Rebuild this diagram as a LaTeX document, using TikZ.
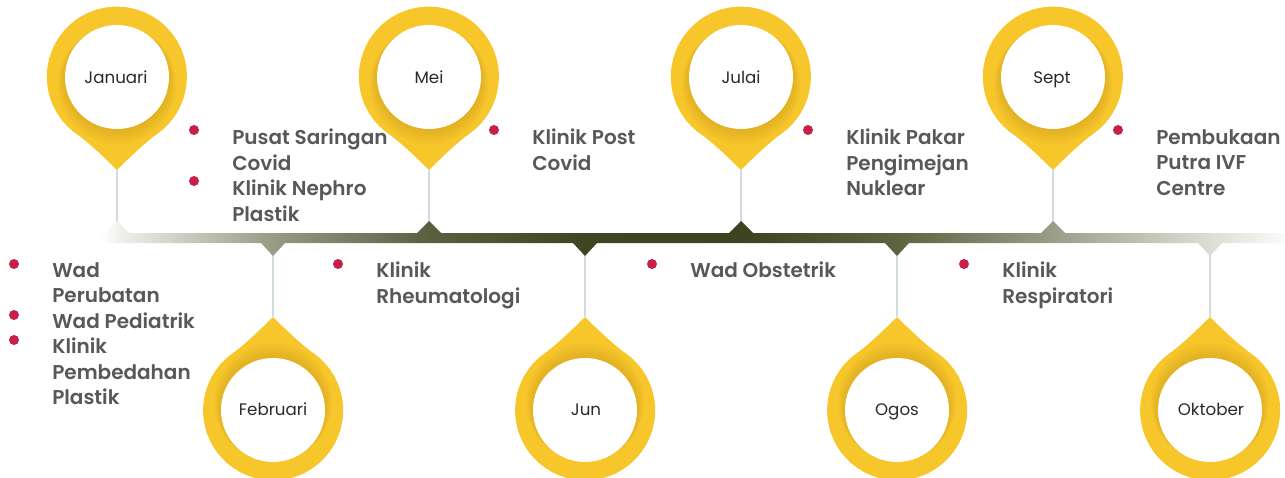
\documentclass[tikz,border=0pt]{standalone}
\usepackage{fontspec}
\setmainfont{Poppins}[BoldFont=* SemiBold]
\usetikzlibrary{positioning}
\definecolor{pinyellow}{HTML}{F7C62B}
\definecolor{pinshadow}{HTML}{C8951A}
\definecolor{stemgrey}{HTML}{D3DCE1}
\definecolor{dotred}{HTML}{C8204A}
\definecolor{txtgrey}{HTML}{58585B}
\definecolor{monthtxt}{HTML}{2A2A2A}
\definecolor{barA}{HTML}{F2F2EE}
\definecolor{barB}{HTML}{989A84}
\definecolor{barC}{HTML}{5B5F40}
\definecolor{barD}{HTML}{3F4421}
\definecolor{barE}{HTML}{3D4220}
\definecolor{barF}{HTML}{5E6341}
\definecolor{barG}{HTML}{9C9D88}
\definecolor{barH}{HTML}{DDDDD5}
\definecolor{barI}{HTML}{FBFBF9}
\pgfdeclarehorizontalshading{barfade}{100bp}{color(0bp)=(white); color(25bp)=(white);
  color(25.7bp)=(barA); color(32.3bp)=(barB); color(38.9bp)=(barC); color(45.5bp)=(barD);
  color(52.1bp)=(barE); color(58.7bp)=(barF); color(65.2bp)=(barG); color(71.8bp)=(barH);
  color(75bp)=(barI); color(100bp)=(barI)}

\begin{document}
\begin{tikzpicture}[
  x=0.75pt, y=-0.75pt,
  pics/droppin/.style={code={
    \fill[pinyellow] (0,93) .. controls (6,87) and (27.7,65.6) .. (40,57)
      arc[start angle=55, end angle=-235, radius=70]
      .. controls (-27.7,65.6) and (-6,87) .. cycle;
    % soft shadow under the white disc
    \foreach \k in {1,...,8}
      \fill[pinshadow, opacity=.06] (0,\k) circle (51+\k);
    \fill[white] (0,0) circle (52);
  }},
  month/.style={font=\fontsize{12.5}{15}\selectfont, text=monthtxt, inner sep=0pt, anchor=base},
  stem/.style={stemgrey, line width=2.2pt},
  bullet/.style={circle, fill=dotred, inner sep=0pt, minimum size=7.5pt},
  itemtxt/.style={font=\bfseries\fontsize{15}{19.1}\selectfont, text=txtgrey,
    align=left, anchor=north west, inner sep=0pt},
]
\useasboundingbox (0,0) rectangle (1285,478);

% Pins above the line
\pic at (117,77) {droppin};
\pic at (429,77) {droppin};
\pic at (741,77) {droppin};
\pic at (1053,77) {droppin};
% Pins below the line
\pic[rotate=180] at (273,410) {droppin};
\pic[rotate=180] at (585,410) {droppin};
\pic[rotate=180] at (897,410) {droppin};
\pic[rotate=180] at (1210,410) {droppin};

\node[month] (jan) at (116,84) {Januari};
\node[month] (mei) at (429,84) {Mei};
\node[month] (jul) at (741,84) {Julai};
\node[month] (sep) at (1052,84) {Sept};
\node[month] (feb) at (273,415) {Februari};
\node[month] (jun) at (586,415) {Jun};
\node[month] (ogo) at (897,415) {Ogos};
\node[month] (okt) at (1211,415) {Oktober};

% Stems
\coordinate (jan-tip) at (117,170); \coordinate (jan-bar) at (117,233);
\coordinate (mei-tip) at (429,170); \coordinate (mei-bar) at (429,233);
\coordinate (jul-tip) at (741,170); \coordinate (jul-bar) at (741,233);
\coordinate (sep-tip) at (1053,170); \coordinate (sep-bar) at (1053,233);
\coordinate (feb-tip) at (273,317); \coordinate (feb-bar) at (273,243);
\coordinate (jun-tip) at (585,317); \coordinate (jun-bar) at (585,243);
\coordinate (ogo-tip) at (897,317); \coordinate (ogo-bar) at (897,243);
\coordinate (okt-tip) at (1210,317); \coordinate (okt-bar) at (1210,243);
\draw[stem] (jan-tip) -- (jan-bar);
\draw[stem] (mei-tip) -- (mei-bar);
\draw[stem] (jul-tip) -- (jul-bar);
\draw[stem] (sep-tip) -- (sep-bar);
\draw[stem] (feb-tip) -- (feb-bar);
\draw[stem] (jun-tip) -- (jun-bar);
\draw[stem] (ogo-tip) -- (ogo-bar);
\draw[stem] (okt-tip) -- (okt-bar);

% Timeline bar with its markers
\shade[shading=barfade] (100,233)
  -- (105,233) -- (117,221) -- (129,233)
  -- (417,233) -- (429,221) -- (441,233)
  -- (729,233) -- (741,221) -- (753,233)
  -- (1041,233) -- (1053,221) -- (1065,233)
  -- (1285,233) -- (1285,243)
  -- (1222,243) -- (1210,256) -- (1198,243)
  -- (909,243) -- (897,256) -- (885,243)
  -- (597,243) -- (585,256) -- (573,243)
  -- (285,243) -- (273,256) -- (261,243)
  -- (100,243) -- cycle;

% Events above
\node[bullet] (b-jan1) at (194,130) {};
\node[itemtxt] (t-jan1) at (232,129) {Pusat Saringan\\Covid};
\node[bullet] (b-jan2) at (194,181) {};
\node[itemtxt] (t-jan2) at (232,180) {Klinik Nephro\\Plastik};
\node[bullet] (b-mei) at (494,130) {};
\node[itemtxt] (t-mei) at (532,129) {Klinik Post\\Covid};
\node[bullet] (b-jul) at (808,130) {};
\node[itemtxt] (t-jul) at (846,129) {Klinik Pakar\\Pengimejan\\Nuklear};
\node[bullet] (b-sep) at (1118,130) {};
\node[itemtxt] (t-sep) at (1156,129) {Pembukaan\\Putra IVF\\Centre};

% Events below
\node[bullet] (b-feb1) at (14,264) {};
\node[itemtxt] (t-feb1) at (52,262) {Wad\\Perubatan};
\node[bullet] (b-feb2) at (14,315) {};
\node[itemtxt] (t-feb2) at (52,313) {Wad Pediatrik};
\node[bullet] (b-feb3) at (14,340) {};
\node[itemtxt] (t-feb3) at (52,338) {Klinik\\Pembedahan\\Plastik};
\node[bullet] (b-jun) at (338,264) {};
\node[itemtxt] (t-jun) at (376,262) {Klinik\\Rheumatologi};
\node[bullet] (b-ogo) at (652,264) {};
\node[itemtxt] (t-ogo) at (690,262) {Wad Obstetrik};
\node[bullet] (b-okt) at (964,264) {};
\node[itemtxt] (t-okt) at (1002,262) {Klinik\\Respiratori};

\end{tikzpicture}
\end{document}
